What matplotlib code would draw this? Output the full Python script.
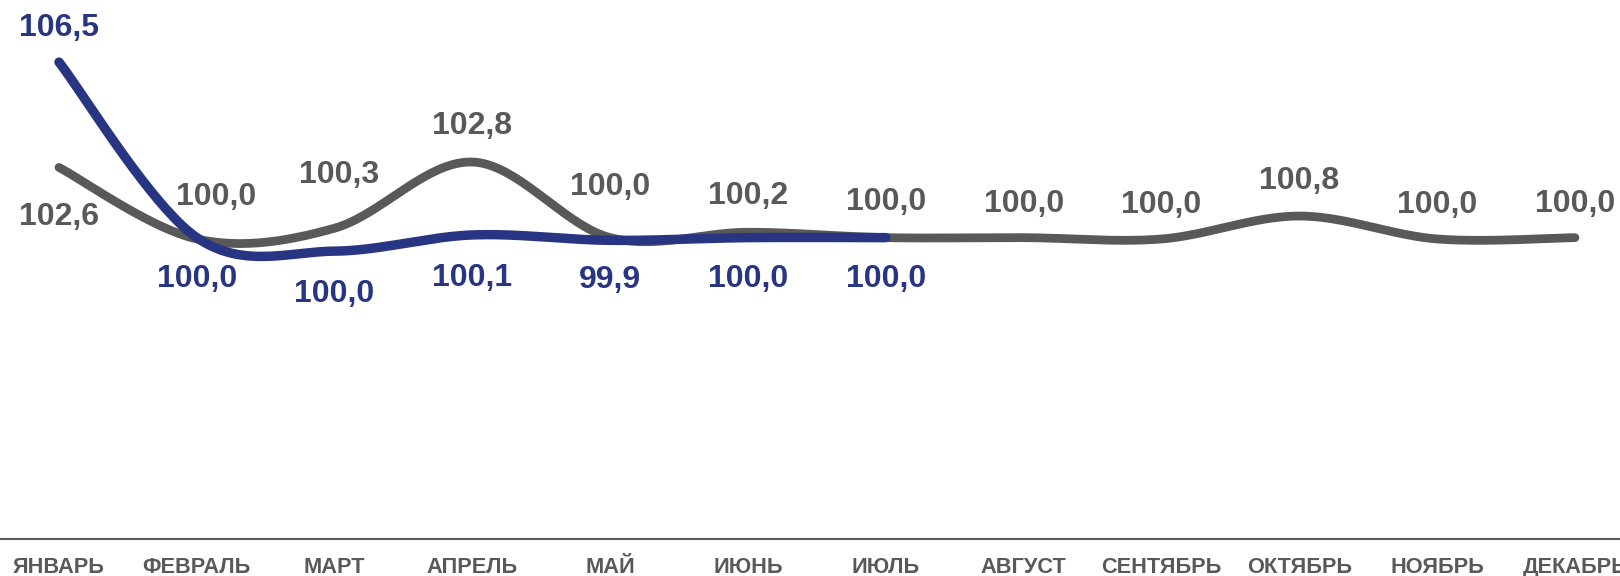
import matplotlib
matplotlib.use("Agg")
import matplotlib.pyplot as plt
import numpy as np

months = ["ЯНВАРЬ", "ФЕВРАЛЬ", "МАРТ", "АПРЕЛЬ", "МАЙ", "ИЮНЬ", "ИЮЛЬ",
          "АВГУСТ", "СЕНТЯБРЬ", "ОКТЯБРЬ", "НОЯБРЬ", "ДЕКАБРЬ"]
# line values as drawn in the picture
prev_year = [102.6, 99.95, 100.35, 102.8, 100.0, 100.2, 100.0,
             100.0, 99.95, 100.8, 99.95, 100.0]
this_year = [106.5, 100.0, 99.5, 100.1, 99.9, 100.0, 100.0]
# data labels as printed on the chart
prev_labels = ["102,6", "100,0", "100,3", "102,8", "100,0", "100,2", "100,0",
               "100,0", "100,0", "100,8", "100,0", "100,0"]
this_labels = ["106,5", "100,0", "100,0", "100,1", "99,9", "100,0", "100,0"]

GRAY = "#595959"
BLUE = "#283583"

plt.rcParams['font.family'] = ['Liberation Sans', 'DejaVu Sans']


def smooth(y, n=40):
    # excel-like smoothed line (catmull-rom through bezier segments)
    x = np.arange(len(y), dtype=float)
    y = np.asarray(y, dtype=float)
    px = np.concatenate([[x[0]], x, [x[-1]]])
    py = np.concatenate([[y[0]], y, [y[-1]]])
    xs, ys = [], []
    t = np.linspace(0, 1, n)
    for i in range(1, len(x)):
        p0 = np.array([px[i - 1], py[i - 1]])
        p1 = np.array([px[i], py[i]])
        p2 = np.array([px[i + 1], py[i + 1]])
        p3 = np.array([px[i + 2], py[i + 2]])
        c1 = p1 + (p2 - p0) / 6
        c2 = p2 - (p3 - p1) / 6
        b = ((1 - t) ** 3)[:, None] * p1 + (3 * (1 - t) ** 2 * t)[:, None] * c1 \
            + (3 * (1 - t) * t ** 2)[:, None] * c2 + (t ** 3)[:, None] * p2
        xs.append(b[:, 0])
        ys.append(b[:, 1])
    return np.concatenate(xs), np.concatenate(ys)


fig = plt.figure(figsize=(16.2, 5.76), dpi=100)
ax = fig.add_axes([0, 37 / 576, 1, 539 / 576])

gx, gy = smooth(prev_year)
bx, by = smooth(this_year)
ax.plot(gx, gy, color=GRAY, lw=6.3, solid_capstyle='round', zorder=2)
ax.plot(bx, by, color=BLUE, lw=6.8, solid_capstyle='round', zorder=3)

# label offsets in pixels (dx, dy), placed by hand like in the source chart
gray_off = [(0, -50), (19, 42), (4, 53), (0, 36), (0, 51), (0, 36), (0, 36),
            (0, 34), (0, 34), (0, 35), (0, 34), (0, 34)]
blue_off = [(0, 34), (0, -41), (0, -43), (0, -43), (0, -40), (0, -41), (0, -41)]

for i, v in enumerate(prev_year):
    ax.annotate(prev_labels[i], (i, v), xytext=gray_off[i], textcoords='offset pixels',
                ha='center', va='center', fontsize=23, fontweight='bold',
                color=GRAY, zorder=4)
for i, v in enumerate(this_year):
    ax.annotate(this_labels[i], (i, v), xytext=blue_off[i], textcoords='offset pixels',
                ha='center', va='center', fontsize=23, fontweight='bold',
                color=BLUE, zorder=4)

ax.set_xlim(-0.428, 11.327)
ax.set_ylim(88.84, 108.8)
ax.set_xticks(range(len(months)))
ax.set_xticklabels(months, fontsize=15.7, fontweight='bold', color=GRAY)
ax.set_yticks([])
ax.tick_params(axis='x', length=0, pad=13)
for s in ['top', 'left', 'right']:
    ax.spines[s].set_visible(False)
ax.spines['bottom'].set_color(GRAY)
ax.spines['bottom'].set_linewidth(1.5)

fig.savefig("out.png", dpi=100, facecolor='white')
